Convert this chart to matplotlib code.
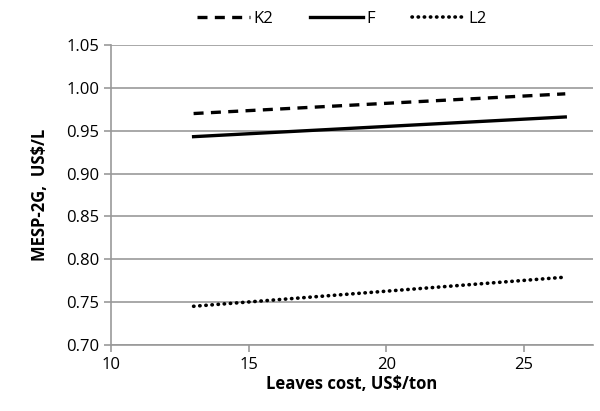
import matplotlib
matplotlib.use("Agg")
from matplotlib import pyplot as plt

plt.rcParams["font.family"] = ["Open Sans", "DejaVu Sans"]

# leaves cost (US$/ton) at the two ends of each line
cost = [13, 26.5]
K2 = [0.970, 0.993]
F = [0.943, 0.966]
L2 = [0.745, 0.779]

fig = plt.figure(figsize=(6, 4.11), dpi=100)
ax = fig.add_axes([0.185, 0.161, 0.803, 0.7295])

ax.plot(cost, K2, color="black", lw=2.4, ls=(0, (3, 2.2)), label="K2")
ax.plot(cost, F, color="black", lw=2.4, ls="-", label="F")
ax.plot(cost, L2, color="black", lw=2.6, ls=(0, (0.1, 1.6)), dash_capstyle="round", label="L2")

ax.set_xlim(10, 27.5)
ax.set_ylim(0.70, 1.05)
ax.set_xticks([10, 15, 20, 25])
ax.set_yticks([0.70, 0.75, 0.80, 0.85, 0.90, 0.95, 1.00, 1.05])
ax.set_yticklabels(["%.2f" % v for v in ax.get_yticks()])
ax.grid(axis="y", color="#999999", lw=1.2)
ax.set_axisbelow(True)

for s in ["top", "right"]:
    ax.spines[s].set_visible(False)
for s in ["left", "bottom"]:
    ax.spines[s].set_color("#999999")
    ax.spines[s].set_linewidth(1.2)
ax.tick_params(colors="#999999", labelcolor="black", labelsize=12, length=5, width=1.2)

ax.set_xlabel("Leaves cost, US$/ton", fontsize=12, fontweight="bold", labelpad=2)
ax.set_ylabel("MESP-2G,  US$/L", fontsize=12, fontweight="bold", labelpad=12)

fig.legend(loc="upper center", bbox_to_anchor=(0.57, 1.01), ncol=3, frameon=False,
           fontsize=12, handlelength=3.2, handletextpad=0.2, columnspacing=2.2)

fig.savefig("out.png", dpi=100)
